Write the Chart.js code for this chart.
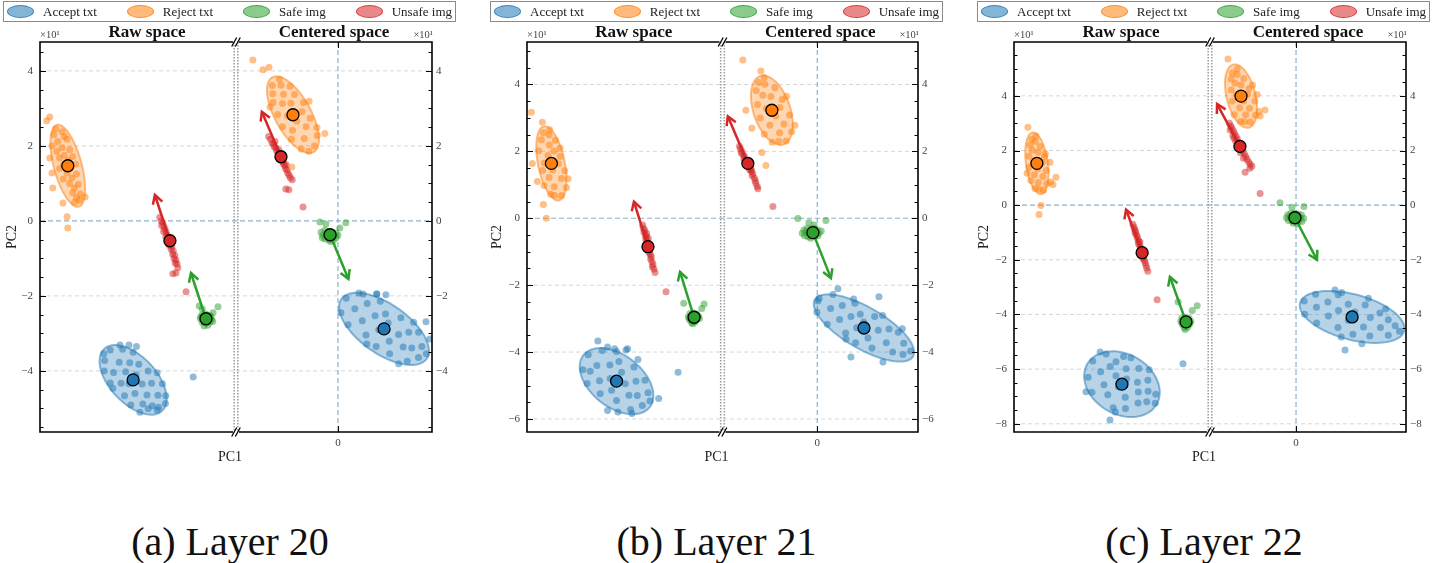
<!DOCTYPE html>
<html>
<head>
<meta charset="utf-8">
<script src="https://cdn.jsdelivr.net/npm/chart.js@4.4.1/dist/chart.umd.min.js"></script>
<style>
  body { margin: 0; background: #fff; width: 1433px; height: 563px; overflow: hidden; position: relative; font-family: 'Liberation Serif', serif; }
  canvas { position: absolute; top: 0; }
  .legend { position: absolute; top: 1px; width: 453px; height: 21px; box-sizing: border-box; border: 1.5px solid #8a8a8a;
            display: flex; justify-content: space-between; align-items: center; padding: 0 3px; font-size: 13px; color: #222; }
  .legend .item { display: flex; align-items: center; white-space: nowrap; }
  .legend .patch { width: 27px; height: 13px; border-radius: 50%; margin-right: 9px; box-sizing: border-box; }
  .caption { position: absolute; top: 522px; line-height: 40px; font-size: 40px; color: #111; transform: translateX(-50%); white-space: nowrap; }
</style>
</head>
<body>
<script>
// ---- labels / scales ----
const CLASS_NAMES = ['Accept txt', 'Reject txt', 'Safe img', 'Unsafe img'];
const CLASS_RGB = [[31, 119, 180], [255, 127, 14], [44, 160, 44], [214, 39, 40]];
const CAPTIONS = ['(a) Layer 20', '(b) Layer 21', '(c) Layer 22'];
const SPACE_TITLES = ['Raw space', 'Centered space'];
const Y_RANGES = [[-5.63, 4.77], [-6.39, 5.27], [-8.3, 5.97]];
const Y_TICKS = [[-4, -2, 0, 2, 4], [-6, -4, -2, 0, 2, 4], [-8, -6, -4, -2, 0, 2, 4]];
const X_RAW_RANGES = [[-2.57, 2.65], [-2.88, 2.97], [-3.54, 3.65]];
const X_CEN_RANGES = [[-2.72, 2.51], [-2.84, 3.02], [-3.16, 4.04]];
const X_CEN_TICKS = [0];

// ---- Layer 20 ----
const L20_RAW_ACCEPT = [[-0.70,-3.44],[-0.85,-3.72],[-0.37,-3.42],[-0.86,-4.0],[-0.46,-3.77],[-0.09,-3.5],[-0.61,-4.04],[-0.18,-3.78],[-0.7,-4.32],[-0.29,-4.02],[0.06,-3.82],[-0.41,-4.33],[-0.01,-4.1],[-0.2,-4.34],[0.31,-4.0],[-0.32,-4.66],[0.15,-4.35],[-0.04,-4.6],[0.4,-4.33],[-0.15,-4.91],[0.28,-4.64],[0.69,-4.34],[0.17,-4.88],[0.57,-4.65],[0.42,-4.93],[0.78,-4.66],[0.59,-4.97],[0.77,-4.87],[-0.87,-3.54],[-0.63,-4.46],[0.55,-4.05],[0.09,-5.1],[-0.44,-3.31],[-0.2,-3.31],[0.0,-3.35],[0.55,-5.04],[0.31,-5.01],[1.51,-4.16]];
const L20_RAW_REJECT = [[-2.15,2.45],[-1.98,2.38],[-2.2,2.3],[-1.92,2.25],[-2.1,2.12],[-1.85,2.18],[-2.25,2.0],[-1.98,1.95],[-1.78,1.9],[-2.12,1.85],[-1.92,1.75],[-1.7,1.72],[-2.05,1.68],[-1.82,1.62],[-1.95,1.5],[-1.62,1.52],[-1.75,1.42],[-2.05,1.4],[-1.85,1.28],[-1.6,1.25],[-1.72,1.15],[-1.95,1.12],[-1.78,1.0],[-1.55,0.98],[-1.65,0.88],[-1.7,0.75],[-1.5,0.72],[-1.6,0.62],[-1.52,0.55],[-1.65,0.5],[-2.39,2.67],[-2.31,2.77],[-2.31,1.68],[-2.25,1.28],[-2.23,0.88],[-1.96,0.48],[-1.85,0.11],[-1.83,-0.19],[-1.37,0.64]];
const L20_RAW_SAFE = [[1.75,-2.5],[1.85,-2.48],[1.95,-2.52],[1.7,-2.6],[1.8,-2.58],[1.9,-2.6],[2.0,-2.62],[1.75,-2.7],[1.85,-2.72],[1.95,-2.7],[1.8,-2.8],[1.9,-2.78],[1.72,-2.55],[1.98,-2.55],[1.88,-2.65],[1.78,-2.65],[2.03,-2.68],[1.82,-2.55],[1.67,-2.27],[2.04,-2.45],[2.17,-2.29],[1.75,-2.35]];
const L20_RAW_UNSAFE = [[0.62,0.1],[0.66,0.0],[0.7,-0.05],[0.67,-0.12],[0.73,-0.15],[0.76,-0.22],[0.72,-0.28],[0.79,-0.3],[0.82,-0.38],[0.78,-0.42],[0.86,-0.45],[0.84,-0.52],[0.9,-0.58],[0.87,-0.65],[0.94,-0.68],[0.92,-0.75],[0.98,-0.8],[0.96,-0.88],[1.02,-0.92],[1.0,-1.0],[1.05,-1.05],[1.08,-1.15],[1.03,-1.12],[1.1,-1.25],[0.97,-1.41],[1.05,-1.39],[1.32,-1.89]];
const L20_CEN_ACCEPT = [[0.22,-2.06],[0.08,-2.45],[0.56,-1.92],[0.45,-2.34],[0.27,-2.77],[0.78,-2.2],[0.65,-2.66],[1.13,-2.14],[0.99,-2.53],[0.75,-3.04],[1.27,-2.48],[1.09,-2.9],[1.34,-2.72],[1.02,-3.35],[1.68,-2.58],[1.37,-3.21],[1.62,-3.03],[1.38,-3.54],[1.89,-2.97],[1.74,-3.36],[2.15,-2.97],[1.97,-3.39],[1.85,-3.74],[2.24,-3.35],[2.15,-3.64],[2.36,-3.54],[1.03,-1.95],[2.02,-2.7],[0.77,-3.28],[1.62,-3.81],[2.35,-2.69],[0.67,-1.95],[1.04,-1.95],[1.28,-1.97],[2.45,-3.15]];
const L20_CEN_REJECT = [[-0.63,2.0],[-0.98,1.92],[-0.55,2.28],[-0.9,2.2],[-0.56,2.49],[-1.24,2.18],[-0.85,2.51],[-1.21,2.42],[-0.74,2.74],[-1.1,2.66],[-1.48,2.51],[-0.96,2.91],[-1.35,2.8],[-0.92,3.15],[-1.61,2.84],[-1.26,3.14],[-1.48,3.13],[-1.16,3.37],[-1.73,3.16],[-1.45,3.38],[-1.28,3.59],[-1.74,3.39],[-1.52,3.62],[-1.75,3.61],[-1.56,3.78],[-0.35,2.33],[-0.77,3.19],[-0.78,1.86],[-2.27,4.29],[-2.0,4.03],[-1.84,4.1],[-1.23,1.44],[-1.81,3.04]];
const L20_CEN_SAFE = [[-0.45,-0.3],[-0.35,-0.25],[-0.25,-0.28],[-0.15,-0.3],[-0.05,-0.32],[-0.4,-0.38],[-0.3,-0.4],[-0.2,-0.36],[-0.1,-0.4],[0.0,-0.38],[-0.35,-0.48],[-0.25,-0.5],[-0.15,-0.47],[-0.05,-0.45],[-0.28,-0.33],[-0.12,-0.52],[-0.42,-0.45],[-0.2,-0.55],[-0.48,-0.03],[-0.32,-0.08],[0.21,-0.05],[0.05,-0.19]];
const L20_CEN_UNSAFE = [[-1.85,2.25],[-1.8,2.18],[-1.76,2.08],[-1.72,2.05],[-1.7,1.98],[-1.66,1.95],[-1.64,1.88],[-1.6,1.82],[-1.57,1.76],[-1.55,1.68],[-1.5,1.65],[-1.48,1.58],[-1.45,1.52],[-1.42,1.48],[-1.4,1.4],[-1.36,1.36],[-1.34,1.28],[-1.3,1.22],[-1.27,1.15],[-1.22,1.1],[-1.68,2.12],[-1.58,1.9],[-1.52,1.74],[-1.46,1.62],[-1.38,1.5],[-1.39,0.85],[-1.31,0.83],[-0.93,0.37]];
const L20_RAW_CENTROIDS = [[-0.09,-4.24],[-1.83,1.47],[1.85,-2.61],[0.89,-0.53]];
const L20_CEN_CENTROIDS = [[1.23,-2.88],[-1.2,2.83],[-0.21,-0.37],[-1.52,1.71]];
const L20_RAW_ELLIPSES = [[1.13,0.62,-47],[1.13,0.37,105]];   // semi-axes + angle, text classes
const L20_CEN_ELLIPSES = [[1.39,0.66,-35],[1.14,0.48,119]];
const L20_RAW_TIPS = [[1.45,-1.39],[0.49,0.69]];              // arrow tips: safe, unsafe
const L20_CEN_TIPS = [[0.28,-1.55],[-2.03,2.91]];

// ---- Layer 21 ----
const L21_RAW_ACCEPT = [[-1.05,-4.08],[-1.21,-4.53],[-0.63,-3.95],[-0.79,-4.4],[-1.08,-4.94],[-0.2,-3.98],[-0.4,-4.39],[-0.71,-4.86],[-0.13,-4.28],[-0.39,-4.79],[-0.69,-5.25],[-0.05,-4.6],[-0.35,-5.14],[0.32,-4.45],[0.06,-4.95],[-0.2,-5.45],[0.38,-4.87],[0.17,-5.29],[0.65,-4.84],[0.42,-5.3],[0.22,-5.72],[0.74,-5.22],[0.57,-5.6],[0.8,-5.46],[-0.99,-4.57],[0.44,-4.22],[0.08,-3.94],[-0.16,-5.79],[1.64,-4.6],[-0.76,-3.67],[-0.47,-5.75],[0.26,-5.84],[1.06,-5.39],[-0.47,-3.85],[-0.26,-3.9],[0.13,-3.9]];
const L21_RAW_REJECT = [[-1.85,0.68],[-2.17,0.72],[-1.7,0.92],[-2.06,0.94],[-2.37,0.98],[-1.85,1.19],[-2.22,1.22],[-1.75,1.42],[-2.11,1.44],[-2.41,1.43],[-1.94,1.63],[-2.36,1.65],[-1.89,1.85],[-2.25,1.88],[-2.07,2.01],[-2.53,2.02],[-2.21,2.19],[-2.03,2.33],[-2.45,2.35],[-2.22,2.49],[-2.39,2.56],[-2.2,2.65],[-2.06,0.69],[-1.89,2.1],[-1.65,1.18],[-2.75,3.17],[-2.72,1.64],[-2.57,1.1],[-2.39,0.41],[-2.3,0.0],[-2.42,2.87]];
const L21_RAW_SAFE = [[2.0,-2.85],[2.1,-2.83],[2.2,-2.86],[1.95,-2.95],[2.05,-2.93],[2.15,-2.95],[2.25,-2.93],[2.0,-3.05],[2.1,-3.05],[2.2,-3.03],[2.05,-3.12],[2.15,-3.1],[1.98,-3.0],[2.28,-3.0],[2.12,-2.9],[2.08,-3.15],[1.81,-2.54],[2.42,-2.56],[2.35,-2.7]];
const L21_RAW_UNSAFE = [[0.58,-0.2],[0.6,-0.3],[0.64,-0.35],[0.62,-0.42],[0.66,-0.5],[0.69,-0.55],[0.67,-0.62],[0.71,-0.68],[0.74,-0.75],[0.72,-0.82],[0.76,-0.9],[0.79,-0.95],[0.77,-1.02],[0.81,-1.08],[0.84,-1.15],[0.82,-1.22],[0.86,-1.3],[0.89,-1.38],[0.87,-1.45],[0.92,-1.52],[0.95,-1.62],[0.7,-0.45],[0.75,-0.6],[0.8,-0.85],[1.28,-2.2]];
const L21_CEN_ACCEPT = [[0.06,-2.39],[-0.01,-2.81],[0.47,-2.28],[0.4,-2.7],[0.3,-3.17],[0.75,-2.61],[0.67,-3.03],[1.13,-2.54],[1.01,-2.94],[0.85,-3.43],[1.29,-2.87],[1.18,-3.27],[1.39,-3.1],[1.15,-3.72],[1.72,-2.94],[1.52,-3.58],[1.83,-3.35],[1.64,-3.88],[2.15,-3.31],[2.07,-3.72],[2.43,-3.41],[2.26,-4.0],[2.59,-3.74],[2.57,-4.07],[2.8,-3.97],[1.09,-2.41],[1.96,-2.91],[2.55,-3.3],[0.86,-3.61],[0.62,-2.11],[1.85,-2.35],[1.01,-4.15],[1.97,-4.3],[0.02,-2.47]];
const L21_CEN_REJECT = [[-0.93,2.31],[-1.35,2.27],[-0.77,2.59],[-1.13,2.56],[-1.59,2.51],[-1.0,2.82],[-1.42,2.78],[-0.83,3.09],[-1.24,3.06],[-1.71,3.0],[-1.12,3.31],[-1.53,3.28],[-1.05,3.55],[-1.79,3.4],[-1.39,3.64],[-1.63,3.68],[-1.27,3.9],[-1.83,3.82],[-1.57,4.01],[-1.76,4.06],[-1.59,4.21],[-1.15,2.3],[-0.92,3.65],[-0.67,2.78],[-2.23,4.73],[-1.69,4.4],[-2.14,3.23],[-1.96,2.69],[-1.66,1.97],[-1.54,1.58]];
const L21_CEN_SAFE = [[-0.4,-0.35],[-0.3,-0.3],[-0.2,-0.32],[-0.1,-0.3],[0.0,-0.34],[0.12,-0.38],[-0.45,-0.45],[-0.35,-0.42],[-0.25,-0.44],[-0.15,-0.4],[-0.05,-0.43],[0.05,-0.45],[-0.38,-0.52],[-0.28,-0.55],[-0.18,-0.52],[-0.08,-0.55],[0.02,-0.52],[-0.2,-0.6],[-0.58,-0.01],[-0.25,-0.13],[0.26,-0.07],[-0.1,-0.2]];
const L21_CEN_UNSAFE = [[-2.33,2.15],[-2.3,2.08],[-2.26,2.0],[-2.28,1.95],[-2.22,1.9],[-2.18,1.85],[-2.2,1.78],[-2.14,1.72],[-2.1,1.66],[-2.12,1.6],[-2.05,1.55],[-2.0,1.5],[-2.03,1.45],[-1.97,1.4],[-1.93,1.33],[-1.95,1.27],[-1.88,1.2],[-1.86,1.12],[-1.84,1.05],[-1.8,0.95],[-1.78,0.88],[-2.16,1.68],[-2.06,1.6],[-1.98,1.45],[-1.33,0.35]];
const L21_RAW_CENTROIDS = [[-0.2,-4.87],[-2.15,1.64],[2.12,-2.96],[0.74,-0.85]];
const L21_CEN_CENTROIDS = [[1.4,-3.28],[-1.36,3.23],[-0.13,-0.43],[-2.08,1.64]];
const L21_RAW_ELLIPSES = [[1.26,0.78,-38],[1.13,0.40,101.5]];
const L21_CEN_ELLIPSES = [[1.7,0.62,-30],[1.08,0.55,109]];
const L21_RAW_TIPS = [[1.7,-1.6],[0.32,0.5]];
const L21_CEN_TIPS = [[0.41,-1.79],[-2.68,3.05]];

// ---- Layer 22 ----
const L22_RAW_ACCEPT = [[-0.65,-5.7],[-0.82,-6.3],[-0.16,-5.45],[-0.36,-6.1],[-0.68,-6.85],[-0.01,-5.9],[-0.24,-6.57],[0.48,-5.54],[0.2,-6.24],[-0.1,-6.94],[0.57,-5.99],[0.3,-6.65],[0.59,-6.36],[0.1,-7.41],[1.04,-5.98],[0.54,-7.03],[0.99,-6.48],[0.55,-7.44],[1.02,-6.84],[1.37,-6.41],[1.01,-7.24],[1.38,-6.81],[1.33,-7.19],[1.66,-6.92],[1.64,-7.25],[-0.9,-6.83],[0.75,-5.58],[0.18,-7.57],[0.2,-5.73],[1.42,-6.02],[2.66,-5.8],[-0.38,-5.37],[-0.02,-7.86]];
const L22_RAW_REJECT = [[-2.46,0.55],[-2.77,0.61],[-2.34,0.78],[-2.65,0.83],[-2.92,0.9],[-2.48,1.05],[-2.79,1.11],[-2.36,1.27],[-2.67,1.33],[-2.99,1.39],[-2.5,1.56],[-2.81,1.62],[-2.43,1.77],[-2.99,1.79],[-2.66,1.94],[-2.87,2.02],[-2.58,2.15],[-2.95,2.2],[-2.76,2.33],[-2.88,2.41],[-2.74,2.53],[-2.62,0.58],[-3.06,1.17],[-2.39,1.88],[-2.2,0.85],[-3.03,2.85],[-2.0,1.02],[-2.55,-0.01],[-2.62,-0.34],[-2.22,1.57],[-2.11,0.76]];
const L22_RAW_SAFE = [[2.62,-4.12],[2.75,-4.1],[2.88,-4.14],[2.58,-4.25],[2.7,-4.22],[2.82,-4.24],[2.95,-4.26],[2.63,-4.36],[2.76,-4.38],[2.9,-4.36],[2.7,-4.48],[2.83,-4.47],[2.68,-4.3],[2.86,-4.3],[2.78,-4.18],[2.74,-4.55],[2.48,-3.54],[3.18,-3.68],[3.0,-3.85]];
const L22_RAW_UNSAFE = [[0.82,-0.7],[0.86,-0.8],[0.88,-0.88],[0.92,-0.95],[0.9,-1.02],[0.95,-1.08],[0.98,-1.15],[1.0,-1.25],[1.04,-1.32],[1.02,-1.4],[1.07,-1.48],[1.1,-1.55],[1.13,-1.62],[1.15,-1.7],[1.18,-1.8],[1.21,-1.88],[1.19,-1.95],[1.24,-2.02],[1.27,-2.1],[1.3,-2.2],[1.33,-2.3],[1.37,-2.42],[1.08,-1.35],[1.2,-1.75],[1.71,-3.46]];
const L22_CEN_ACCEPT = [[0.3,-3.51],[0.32,-3.99],[0.72,-3.26],[0.75,-3.74],[0.76,-4.31],[1.17,-3.54],[1.19,-4.06],[1.55,-3.28],[1.56,-3.85],[1.54,-4.48],[1.92,-3.63],[1.92,-4.21],[2.16,-3.91],[2.09,-4.72],[2.54,-3.65],[2.48,-4.46],[2.73,-4.11],[2.71,-4.79],[3.08,-3.95],[3.1,-4.48],[3.39,-4.19],[3.39,-4.76],[3.64,-4.41],[3.8,-4.61],[1.68,-3.2],[2.66,-3.41],[1.66,-4.82],[3.29,-3.8],[2.42,-5.07],[1.43,-3.1],[1.8,-5.3]];
const L22_CEN_REJECT = [[-1.68,3.04],[-2.04,3.06],[-1.49,3.29],[-1.85,3.31],[-2.27,3.31],[-1.71,3.55],[-2.07,3.56],[-1.51,3.81],[-1.92,3.81],[-2.34,3.81],[-1.78,4.05],[-2.19,4.05],[-1.73,4.26],[-2.38,4.21],[-2.02,4.4],[-2.24,4.46],[-1.92,4.63],[-2.38,4.62],[-2.16,4.78],[-2.34,4.84],[-2.16,4.98],[-1.89,3.05],[-1.6,4.4],[-1.36,3.43],[-2.5,5.35],[-1.14,3.48],[-1.32,3.26],[-1.43,4.05]];
const L22_CEN_SAFE = [[-0.3,-0.35],[-0.18,-0.3],[-0.05,-0.3],[0.08,-0.32],[0.2,-0.36],[-0.35,-0.46],[-0.22,-0.42],[-0.1,-0.44],[0.02,-0.42],[0.15,-0.46],[0.28,-0.48],[-0.28,-0.56],[-0.15,-0.58],[-0.02,-0.55],[0.1,-0.58],[0.22,-0.6],[-0.1,-0.66],[0.05,-0.68],[-0.59,0.09],[-0.15,-0.08],[0.29,-0.05]];
const L22_CEN_UNSAFE = [[-2.45,3.0],[-2.4,2.9],[-2.36,2.82],[-2.42,2.75],[-2.3,2.72],[-2.26,2.62],[-2.32,2.55],[-2.2,2.52],[-2.16,2.42],[-2.22,2.35],[-2.1,2.3],[-2.05,2.2],[-2.12,2.12],[-2.0,2.08],[-1.96,1.98],[-2.04,1.92],[-1.9,1.88],[-1.85,1.78],[-1.93,1.72],[-1.8,1.68],[-1.74,1.58],[-1.68,1.5],[-1.62,1.42],[-2.28,2.45],[-1.98,2.2],[-1.87,1.2],[-1.7,1.35],[-1.32,0.43]];
const L22_RAW_CENTROIDS = [[0.42,-6.55],[-2.7,1.53],[2.77,-4.27],[1.16,-1.74]];
const L22_CEN_CENTROIDS = [[2.06,-4.09],[-2.02,3.99],[-0.04,-0.46],[-2.06,2.15]];
const L22_RAW_ELLIPSES = [[1.47,1.1,-30],[1.14,0.4,98]];
const L22_CEN_ELLIPSES = [[1.98,0.83,-15],[1.19,0.53,104]];
const L22_RAW_TIPS = [[2.18,-2.62],[0.57,-0.16]];
const L22_CEN_TIPS = [[0.77,-2.0],[-2.9,3.7]];

const LAYERS = [
  { raw: { pts: [L20_RAW_ACCEPT, L20_RAW_REJECT, L20_RAW_SAFE, L20_RAW_UNSAFE], cen: L20_RAW_CENTROIDS, ell: L20_RAW_ELLIPSES, tips: L20_RAW_TIPS },
    cen: { pts: [L20_CEN_ACCEPT, L20_CEN_REJECT, L20_CEN_SAFE, L20_CEN_UNSAFE], cen: L20_CEN_CENTROIDS, ell: L20_CEN_ELLIPSES, tips: L20_CEN_TIPS } },
  { raw: { pts: [L21_RAW_ACCEPT, L21_RAW_REJECT, L21_RAW_SAFE, L21_RAW_UNSAFE], cen: L21_RAW_CENTROIDS, ell: L21_RAW_ELLIPSES, tips: L21_RAW_TIPS },
    cen: { pts: [L21_CEN_ACCEPT, L21_CEN_REJECT, L21_CEN_SAFE, L21_CEN_UNSAFE], cen: L21_CEN_CENTROIDS, ell: L21_CEN_ELLIPSES, tips: L21_CEN_TIPS } },
  { raw: { pts: [L22_RAW_ACCEPT, L22_RAW_REJECT, L22_RAW_SAFE, L22_RAW_UNSAFE], cen: L22_RAW_CENTROIDS, ell: L22_RAW_ELLIPSES, tips: L22_RAW_TIPS },
    cen: { pts: [L22_CEN_ACCEPT, L22_CEN_REJECT, L22_CEN_SAFE, L22_CEN_UNSAFE], cen: L22_CEN_CENTROIDS, ell: L22_CEN_ELLIPSES, tips: L22_CEN_TIPS } },
];

// canvas placement (pixels)
const PANELS = [
  { left: 0, width: 470, axisL: 40, axisR: 38 },
  { left: 485, width: 470, axisL: 42, axisR: 37 },
  { left: 972, width: 461, axisL: 42, axisR: 27 },
];
const CANVAS_H = 470;
const SERIF = "'Liberation Serif'";

Chart.defaults.font.family = SERIF;
const rgba = (c, a) => `rgba(${c[0]},${c[1]},${c[2]},${a})`;
const fmt = v => v < 0 ? '\u2212' + (-v) : String(v);

function ellipsePath(ctx, xs, ys, cx, cy, a, b, deg) {
  const t = deg * Math.PI / 180, c = Math.cos(t), s = Math.sin(t);
  ctx.beginPath();
  for (let k = 0; k <= 90; k++) {
    const p = k / 90 * 2 * Math.PI;
    const u = a * Math.cos(p), v = b * Math.sin(p);
    const px = xs.getPixelForValue(cx + u * c - v * s);
    const py = ys.getPixelForValue(cy + u * s + v * c);
    if (k) ctx.lineTo(px, py); else ctx.moveTo(px, py);
  }
  ctx.closePath();
}

function decor(li) {
  return {
    id: 'decor' + li,
    beforeDatasetsDraw(chart) {
      const { ctx, chartArea: ca, scales: { xr, xc, yl } } = chart;
      ctx.save();
      for (const v of Y_TICKS[li]) {
        const y = yl.getPixelForValue(v);
        ctx.beginPath();
        ctx.setLineDash(v === 0 ? [5, 3] : [4, 3]);
        ctx.strokeStyle = v === 0 ? 'rgba(120,165,200,0.85)' : '#d2d2d2';
        ctx.lineWidth = v === 0 ? 1.2 : 0.9;
        ctx.moveTo(ca.left, y); ctx.lineTo(ca.right, y); ctx.stroke();
      }
      const x0 = xc.getPixelForValue(0);
      ctx.beginPath();
      ctx.setLineDash([5, 3]);
      ctx.strokeStyle = 'rgba(120,165,200,0.85)'; ctx.lineWidth = 1.2;
      ctx.moveTo(x0, ca.top); ctx.lineTo(x0, ca.bottom); ctx.stroke();
      ctx.setLineDash([]);
      [['raw', xr], ['cen', xc]].forEach(([sp, xs]) => {
        const L = LAYERS[li][sp];
        ctx.save();
        ctx.beginPath(); ctx.rect(xs.left, ca.top, xs.right - xs.left, ca.bottom - ca.top); ctx.clip();
        L.ell.forEach((e, k) => {
          ellipsePath(ctx, xs, yl, L.cen[k][0], L.cen[k][1], e[0], e[1], e[2]);
          ctx.fillStyle = rgba(CLASS_RGB[k], 0.32); ctx.fill();
          ctx.strokeStyle = rgba(CLASS_RGB[k], 0.5); ctx.lineWidth = 2; ctx.stroke();
        });
        ctx.restore();
      });
      ctx.restore();
    },
    afterDatasetsDraw(chart) {
      const ctx = chart.ctx;
      ctx.save();
      chart.data.datasets.forEach((ds, i) => {
        if (!ds.arrow) return;
        const [a, b] = chart.getDatasetMeta(i).data;
        const ang = Math.atan2(b.y - a.y, b.x - a.x);
        ctx.strokeStyle = ds.borderColor; ctx.lineWidth = 2.5; ctx.lineJoin = 'miter';
        ctx.beginPath();
        ctx.moveTo(b.x - 10 * Math.cos(ang - 0.52), b.y - 10 * Math.sin(ang - 0.52));
        ctx.lineTo(b.x, b.y);
        ctx.lineTo(b.x - 10 * Math.cos(ang + 0.52), b.y - 10 * Math.sin(ang + 0.52));
        ctx.stroke();
      });
      ctx.restore();
    },
    afterDraw(chart) {
      const { ctx, chartArea: ca, scales: { xr, xc, yl } } = chart;
      const bx = xr.right;
      ctx.save();
      // break: double dotted spines
      ctx.strokeStyle = '#a0a0a0'; ctx.lineWidth = 1.6; ctx.setLineDash([1.6, 1.4]);
      [bx - 1.8, bx + 1.8].forEach(x => { ctx.beginPath(); ctx.moveTo(x, ca.top); ctx.lineTo(x, ca.bottom); ctx.stroke(); });
      ctx.setLineDash([]);
      // spines
      ctx.strokeStyle = '#000'; ctx.lineWidth = 1.6;
      ctx.beginPath();
      ctx.moveTo(ca.left, ca.top); ctx.lineTo(ca.left, ca.bottom);
      ctx.moveTo(ca.right, ca.top); ctx.lineTo(ca.right, ca.bottom);
      [ca.top, ca.bottom].forEach(y => {
        ctx.moveTo(ca.left - 0.8, y); ctx.lineTo(bx - 3, y);
        ctx.moveTo(bx + 3, y); ctx.lineTo(ca.right + 0.8, y);
      });
      ctx.stroke();
      // break marks //
      ctx.lineWidth = 1.3;
      ctx.beginPath();
      [ca.top, ca.bottom].forEach(y => {
        [-1.8, 1.8].forEach(o => { ctx.moveTo(bx + o - 2.5, y + 4.5); ctx.lineTo(bx + o + 2.5, y - 4.5); });
      });
      ctx.stroke();
      // inward ticks
      ctx.lineWidth = 1;
      ctx.beginPath();
      const [ymin, ymax] = Y_RANGES[li];
      for (let v = Math.ceil(ymin * 2) / 2; v <= ymax; v += 0.5) {
        const y = Math.round(yl.getPixelForValue(v)) + 0.5;
        const len = Y_TICKS[li].includes(v) ? 6 : 3.5;
        ctx.moveTo(ca.left, y); ctx.lineTo(ca.left + len, y);
        ctx.moveTo(ca.right, y); ctx.lineTo(ca.right - len, y);
      }
      X_CEN_TICKS.forEach(v => {
        const x = Math.round(xc.getPixelForValue(v)) + 0.5;
        ctx.moveTo(x, ca.bottom); ctx.lineTo(x, ca.bottom - 6);
        ctx.moveTo(x, ca.top); ctx.lineTo(x, ca.top + 6);
      });
      ctx.stroke();
      // titles
      ctx.fillStyle = '#111';
      ctx.font = `bold 17px ${SERIF}`;
      ctx.textAlign = 'center'; ctx.textBaseline = 'alphabetic';
      ctx.fillText(SPACE_TITLES[0], (xr.left + xr.right) / 2 + 9, 37);
      ctx.fillText(SPACE_TITLES[1], (xc.left + xc.right) / 2, 37);
      // offset labels
      ctx.fillStyle = '#444';
      ctx.font = `10.5px ${SERIF}`;
      ctx.textAlign = 'left'; ctx.fillText('\u00d710\u00b9', ca.left, 38);
      ctx.textAlign = 'right'; ctx.fillText('\u00d710\u00b9', ca.right + 1, 38);
      // x label
      ctx.fillStyle = '#222';
      ctx.font = `14px ${SERIF}`;
      ctx.textAlign = 'center';
      ctx.fillText('PC1', bx - 6, 461);
      ctx.restore();
    }
  };
}

PANELS.forEach((P, li) => {
  const cv = document.createElement('canvas');
  cv.width = P.width; cv.height = CANVAS_H;
  cv.style.left = P.left + 'px';
  document.body.appendChild(cv);

  const datasets = [];
  [['raw', 'xr'], ['cen', 'xc']].forEach(([sp, xid]) => {
    const L = LAYERS[li][sp];
    datasets.push({
      data: L.cen, xAxisID: xid, yAxisID: 'yl', order: 1,
      pointRadius: 6, pointBorderWidth: 1.3, pointBorderColor: '#000',
      pointBackgroundColor: CLASS_RGB.map(c => rgba(c, 1)),
    });
    L.tips.forEach((tip, k) => {
      const ci = k + 2;
      datasets.push({
        type: 'line', arrow: true, data: [L.cen[ci], tip], xAxisID: xid, yAxisID: 'yl', order: 2,
        borderColor: rgba(CLASS_RGB[ci], 1), borderWidth: 2.5, pointRadius: 0, fill: false,
      });
    });
    L.pts.forEach((pts, k) => {
      datasets.push({
        data: pts, xAxisID: xid, yAxisID: 'yl', order: 3,
        pointRadius: 3.5, borderWidth: 0,
        backgroundColor: rgba(CLASS_RGB[k], 0.5), borderColor: rgba(CLASS_RGB[k], 0.5),
      });
    });
  });

  const yTicks = s => { s.ticks = Y_TICKS[li].map(v => ({ value: v })); };
  const tickFont = { size: 11, family: SERIF };
  new Chart(cv.getContext('2d'), {
    type: 'scatter',
    data: { datasets },
    options: {
      responsive: false, animation: false, events: [],
      layout: { padding: { top: 42, left: 0, right: 0, bottom: 0 } },
      plugins: { legend: { display: false }, tooltip: { enabled: false } },
      scales: {
        xr: {
          type: 'linear', position: 'bottom', stack: 'pc1', min: X_RAW_RANGES[li][0], max: X_RAW_RANGES[li][1],
          grid: { display: false, drawTicks: false }, border: { display: false }, ticks: { display: false },
          afterFit: s => { s.height = CANVAS_H - 432; },
        },
        xc: {
          type: 'linear', position: 'bottom', stack: 'pc1', min: X_CEN_RANGES[li][0], max: X_CEN_RANGES[li][1],
          grid: { display: false, drawTicks: false }, border: { display: false },
          ticks: { font: tickFont, color: '#444', padding: 5, maxRotation: 0, autoSkip: false, callback: fmt },
          afterBuildTicks: s => { s.ticks = X_CEN_TICKS.map(v => ({ value: v })); },
          afterFit: s => { s.height = CANVAS_H - 432; },
        },
        yl: {
          type: 'linear', position: 'left', min: Y_RANGES[li][0], max: Y_RANGES[li][1],
          grid: { display: false, drawTicks: false }, border: { display: false },
          ticks: { font: tickFont, color: '#444', padding: 7, autoSkip: false, callback: fmt },
          afterBuildTicks: yTicks,
          afterFit: s => { s.width = P.axisL; },
          title: { display: true, text: 'PC2', color: '#222', font: { size: 14, family: SERIF }, padding: { top: 4, bottom: 0 } },
        },
        yr: {
          type: 'linear', position: 'right', min: Y_RANGES[li][0], max: Y_RANGES[li][1],
          grid: { display: false, drawTicks: false }, border: { display: false },
          ticks: { font: tickFont, color: '#444', padding: 4, autoSkip: false, callback: fmt },
          afterBuildTicks: yTicks,
          afterFit: s => { s.width = P.axisR; },
        },
      },
    },
    plugins: [decor(li)],
  });

  // legend (framed, one row) and caption under the panel
  const caLeft = P.left + P.axisL;
  const caMid = caLeft + (P.width - P.axisL - P.axisR) / 2;
  const lg = document.createElement('div');
  lg.className = 'legend';
  lg.style.left = (caLeft - 37) + 'px';
  CLASS_NAMES.forEach((name, k) => {
    const it = document.createElement('span'); it.className = 'item';
    const patch = document.createElement('span'); patch.className = 'patch';
    patch.style.background = rgba(CLASS_RGB[k], 0.55);
    patch.style.border = '1.5px solid ' + rgba(CLASS_RGB[k], 0.8);
    const tx = document.createElement('span'); tx.textContent = name;
    it.appendChild(patch); it.appendChild(tx); lg.appendChild(it);
  });
  document.body.appendChild(lg);

  const cap = document.createElement('div');
  cap.className = 'caption';
  cap.style.left = (caMid - 6) + 'px';
  cap.textContent = CAPTIONS[li];
  document.body.appendChild(cap);
});
</script>
</body>
</html>
